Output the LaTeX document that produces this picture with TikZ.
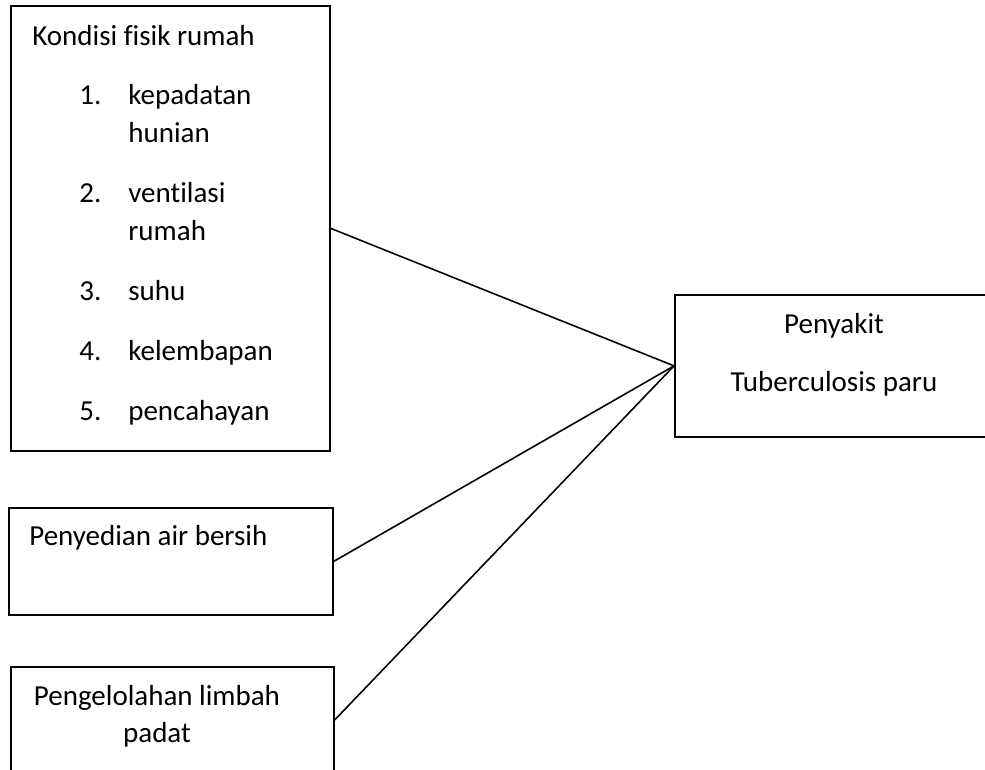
\documentclass[tikz,border=0pt]{standalone}
\usepackage{fontspec}
\setmainfont{Carlito}[Ligatures=NoCommon]
\usetikzlibrary{calc,positioning}

\begin{document}
\begin{tikzpicture}[
  box/.style={rectangle, draw=black, line width=1pt, anchor=north west, inner sep=0pt},
  txt/.style={font=\fontsize{16.5pt}{21.6pt}\selectfont, inner sep=0pt},
  conn/.style={line width=0.9pt, color=black}
]
  \clip (0,0) rectangle (19.7,-15.38);

  % kotak-kotak
  \node[box, minimum width=6.38cm, minimum height=8.9cm] (fisik) at (0.2,-0.1) {};
  \node[box, minimum width=6.48cm, minimum height=2.14cm] (air) at (0.16,-10.14) {};
  \node[box, minimum width=6.46cm, minimum height=2.12cm] (limbah) at (0.2,-13.32) {};
  \node[box, minimum width=6.42cm, minimum height=2.84cm] (tb) at (13.48,-5.88) {};

  % isi kotak
  \node[txt, anchor=base west] (fisikTeks) at (0.64,-0.9) {%
    \begin{tabular}[t]{@{\hspace{0.94cm}}p{0.98cm}@{}l@{}}
      \multicolumn{2}{@{}l@{}}{Kondisi fisik rumah}\\[12.5pt]
      1. & kepadatan\\
         & hunian\\[12.5pt]
      2. & ventilasi\\
         & rumah\\[12.5pt]
      3. & suhu\\[12.5pt]
      4. & kelembapan\\[12.5pt]
      5. & pencahayan
    \end{tabular}};
  \node[txt, anchor=base west] (airTeks) at (0.58,-10.91) {Penyedian air bersih};
  \node[txt, anchor=base] (limbahTeks) at (3.14,-14.1) {%
    \begin{tabular}[t]{@{}c@{}}Pengelolahan limbah\\ padat\end{tabular}};
  \node[txt, anchor=base] (tbTeks) at (16.68,-6.66) {%
    \begin{tabular}[t]{@{}c@{}}Penyakit\\[11.85pt] Tuberculosis paru\end{tabular}};

  % garis
  \draw[conn] (fisik.east) -- (tb.west);
  \draw[conn] (air.east) -- (tb.west);
  \draw[conn] (limbah.east) -- (tb.west);
\end{tikzpicture}
\end{document}
